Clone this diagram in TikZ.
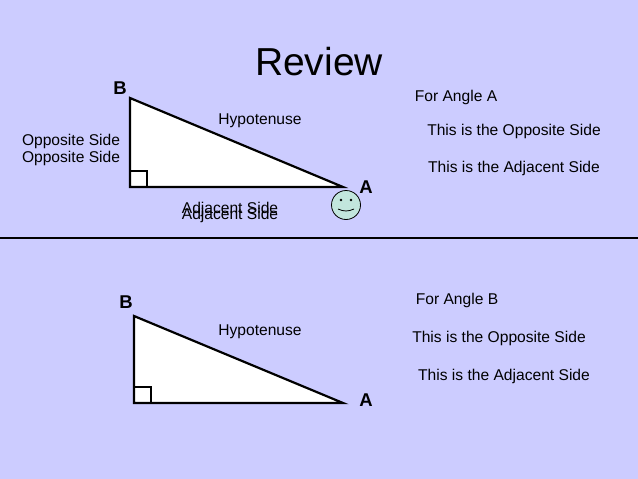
\documentclass[tikz,border=0pt]{standalone}
\usepackage{fontspec}
\setmainfont{Liberation Sans}
\definecolor{bg}{HTML}{CCCCFF}
\definecolor{face}{HTML}{C2E6DD}
\begin{document}
\begin{tikzpicture}[x=1pt,y=-1pt,
  lbl/.style={font=\fontsize{15.6}{18}\selectfont,inner sep=0},
  vtx/.style={font=\bfseries\fontsize{18.5}{21}\selectfont,inner sep=0},
  tri/.style={draw,line width=2.2pt,fill=white,line join=miter}]
\fill[bg] (0,0) rectangle (638,479);
\useasboundingbox (0,0) rectangle (638,479);
\node[font=\fontsize{39}{44}\selectfont] (title) at (319,62) {Review};
\draw[line width=2.2pt] (0,238) coordinate (l1) -- (638,238) coordinate (l2);
% top triangle
\draw[tri] (130,98) -- (130,187) -- (343,187) -- cycle;
\draw[line width=2.2pt] (130,171) -| (147,187);
\node[vtx] (B1) at (120,88) {B};
\node[vtx] (A1) at (366,187) {A};
\node[lbl] (h1) at (260,121) {Hypotenuse};
\node[lbl] (o1) at (71,141) {Opposite Side};
\node[lbl] (o2) at (71,158) {Opposite Side};
\node[lbl] (a1) at (230,209) {Adjacent Side};
\node[lbl] (a2) at (230,215) {Adjacent Side};
\node[circle,draw,line width=0.8pt,fill=face,minimum size=29pt,inner sep=0] (sm) at (346,205) {};
\fill (341,200) circle (1.4pt) (351,200) circle (1.4pt);
\draw[line width=0.8pt] (338,209) to[bend right=25] (354,209);
\node[lbl] (fa) at (456,97) {For Angle A};
\node[lbl] (ra1) at (514,131) {This is the Opposite Side};
\node[lbl] (ra2) at (514,168) {This is the Adjacent Side};
% bottom triangle
\draw[tri] (134,316) -- (134,403) -- (343,403) -- cycle;
\draw[line width=2.2pt] (134,387) -| (151,403);
\node[vtx] (B2) at (126,302) {B};
\node[vtx] (A2) at (366,400) {A};
\node[lbl] (h2) at (260,332) {Hypotenuse};
\node[lbl] (fb) at (457,300) {For Angle B};
\node[lbl] (rb1) at (499,338) {This is the Opposite Side};
\node[lbl] (rb2) at (504,376) {This is the Adjacent Side};
\end{tikzpicture}
\end{document}
